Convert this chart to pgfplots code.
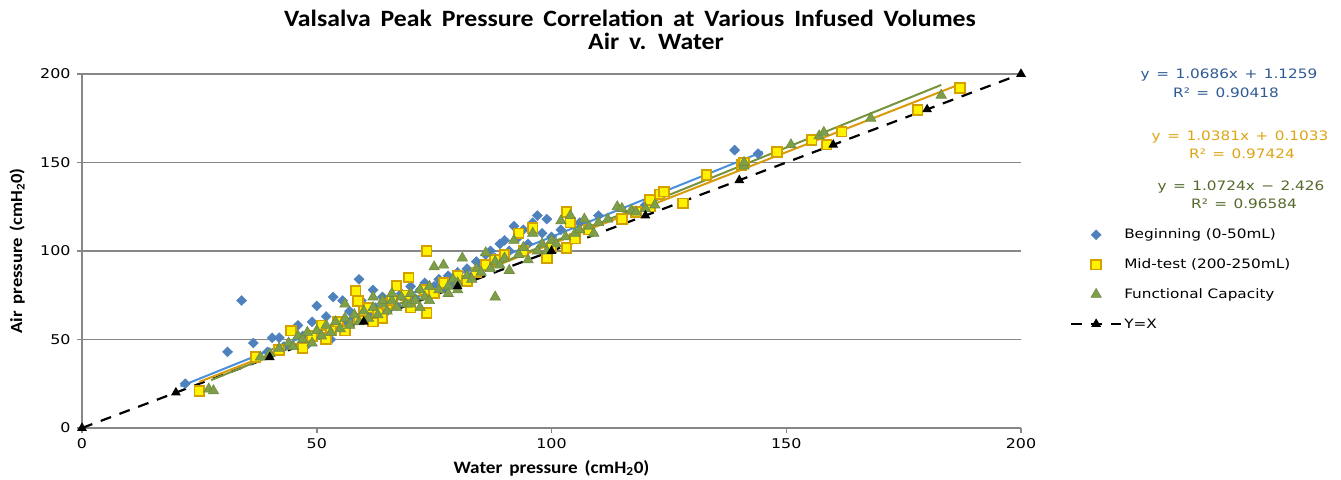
\documentclass[border=0pt]{standalone}
\usepackage{pgfplots}
\pgfplotsset{compat=1.18}
\usepackage{fontspec}
\setmainfont{DejaVu Sans}[FakeStretch=1.18]
\newfontfamily\calb{Carlito}[FakeStretch=1.1]
\definecolor{begc}{HTML}{4F81BD}
\definecolor{begline}{HTML}{4A8FDB}
\definecolor{begtxt}{HTML}{2F5A94}
\definecolor{midfill}{HTML}{FFF200}
\definecolor{middraw}{HTML}{D4A000}
\definecolor{midline}{HTML}{D99A0B}
\definecolor{midtxt}{HTML}{DDA515}
\definecolor{funfill}{HTML}{7E9E4A}
\definecolor{fundraw}{HTML}{6F8C3F}
\definecolor{funline}{HTML}{77933C}
\definecolor{funtxt}{HTML}{55692C}
\definecolor{axgray}{HTML}{878787}
\begin{document}
\begin{tikzpicture}[x=1bp,y=1bp]
\useasboundingbox (0,0) rectangle (1341,480);
\begin{axis}[
  at={(82bp,52bp)}, anchor=south west,
  scale only axis, width=939bp, height=354bp,
  xmin=0, xmax=200, ymin=0, ymax=200,
  axis x line*=bottom, axis y line*=left,
  axis line style={draw=axgray, line width=2bp},
  xtick={0,50,...,200}, ytick={0,50,...,200},
  ymajorgrids, grid style={draw=axgray, line width=1.8bp},
  tick style={draw=axgray, line width=1.5bp},
  tick align=outside, major tick length=5bp,
  /pgf/number format/assume math mode=true,
  tick label style={font=\fontsize{13.5}{15}\selectfont, text=black},
  xticklabel style={yshift=-2bp},
  yticklabel style={xshift=-3bp},
  every axis x label/.style={at={(axis description cs:0.5,-0.113)}, anchor=center},
  every axis y label/.style={at={(axis description cs:-0.069,0.5)}, rotate=90, anchor=center},
  xlabel={\calb\bfseries\fontsize{17.5}{19}\selectfont\spaceskip=0.4em Water pressure (cmH\textsubscript{2}0)},
  ylabel={\calb\bfseries\fontsize{17}{19}\selectfont\spaceskip=0.4em Air pressure (cmH\textsubscript{2}0)},
  clip=false,
  legend image code/.code={\draw[mark repeat=2,mark phase=2,#1] plot coordinates {(0bp,0bp) (25bp,0bp) (50bp,0bp)};},
  legend cell align=left,
  legend style={draw=none, fill=none, at={(axis description cs:1.052,0.568)}, anchor=north west,
    font=\fontsize{13}{14}\selectfont, row sep=14.5bp, inner sep=0pt},
]
\addplot[only marks, mark=diamond*, mark size=5bp, mark options={fill=begc, draw=begc, xscale=1.35}] coordinates {
(22,25) (31,43) (34,72) (36.5,48) (39.5,43) (40.5,51) (42,51) (43,46) (44.5,55) (46,58) (47,52) (48,47) (49,60) (50,69) (50.5,56) (52,63) (53,50) (53.5,74) (54.5,58) (55.5,72) (56,61) (57,66) (58,62) (59,84) (59.5,72) (61,64) (62,78) (62.5,68) (64,74) (65,66) (66,72) (67,69) (68,76) (69,74) (70,80) (71,73) (72,78) (73,82) (74,76) (75,80) (76,84) (77,79) (78,86) (79,82) (80,88) (82,90) (83,86) (84,94) (85,92) (86,98) (87,100) (88,96) (89,104) (90,106) (91,100) (92,114) (93,108) (94,112) (95,104) (96,116) (97,120) (98,110) (99,118) (100,108) (102,112) (104,118) (106,116) (110,120) (118,122) (120,126) (139,157) (141,150) (144,155)
};
\addlegendentry{Beginning (0-50mL)}
\addplot[only marks, mark=square*, mark size=4.8bp, mark options={fill=midfill, draw=middraw, line width=1.8bp}] coordinates {
(25,21) (37,40) (42,44) (44.5,55) (47,45) (49,52) (51,58) (52,50) (53,55) (54.5,60) (56,55) (58.3,77.6) (58.8,71.7) (59,62) (60,66) (61,68) (62,60) (63,65) (64,62) (65,70) (67,80.4) (66,72) (69.6,85) (69,75) (70,68) (73.4,65) (73.4,100) (73,78) (75,76) (77,82) (80,86) (82,83) (84,88) (86,92) (88,95) (90,98) (93,110) (94,100) (96,113) (99,96) (100,102) (103.2,101.7) (103.2,122) (104,116) (105,107) (108,112) (115,118) (118,122) (121,125) (121,128.8) (123,132) (124,133.5) (128,127) (133,143) (140.5,148.6) (141,150) (148,156) (155.4,162.7) (158.6,160) (161.8,167.4) (178,179.7) (187,192)
};
\addlegendentry{Mid-test (200-250mL)}
\addplot[only marks, mark=triangle*, mark size=6bp, mark options={fill=funfill, draw=fundraw, line width=0.6bp}] coordinates {
(27,22) (28,21) (38,40) (40,42) (42,45) (44,48) (45,46) (46,52) (47,50) (48,54) (49,48) (50,55) (51,52) (52,58) (53,54) (54,60) (55,56) (56,62) (56,70) (57,58) (58,64) (59,60) (60,66) (61,62) (62,68) (62,74) (63,64) (64,70) (64,72) (65,66) (66,72) (66,76) (67,68) (68,74) (69,70) (70,76) (70,70) (71,72) (72,78) (72,68) (73,74) (74,80) (74,72) (75,91) (76,78) (77,92) (78,80) (78,76) (79,84) (80,82) (80,78) (81,96) (82,86) (83,84) (84,90) (85,88) (86,99) (87,90) (88,74) (88,94) (89,92) (90,96) (91,89) (92,106) (93,98) (94,102) (95,95) (96,110) (97,100) (98,104) (99,100) (100,106) (101,104) (102,117) (103,108) (104,120) (105,110) (106,112) (107,118) (108,114) (109,110) (110,116) (112,118) (114,125) (115,124) (117,123) (118,122) (120,124) (122,126) (141,148) (141,150) (151,160) (157,165) (158,167) (168,175) (183,188)
};
\addlegendentry{Functional Capacity}
\addplot[black, line width=2.2bp, dash pattern=on 11bp off 9bp, mark=triangle*, mark size=3.5bp, mark options={solid, fill=black}] coordinates {
(0,0) (20,20) (40,40) (60,60) (80,80) (100,100) (120,120) (140,140) (160,160) (180,180) (200,200)
};
\addlegendentry{Y=X}
% trendlines (endpoints from the printed fits)
\addplot[forget plot, begline, line width=2bp] coordinates {(21,23.57) (145,156.07)};
\addplot[forget plot, midline, line width=2bp] coordinates {(25,26.06) (187,194.23)};
\addplot[forget plot, funline, line width=2bp] coordinates {(27.5,27.07) (183,193.82)};
\end{axis}
\begin{scope}[font=\fontsize{13}{14}\selectfont]
\node[text=begtxt] at (1229,405) {\spaceskip=0.5em y = 1.0686x + 1.1259};
\node[text=begtxt] at (1226,387) {\spaceskip=0.5em R² = 0.90418};
\node[text=midtxt] at (1240,343) {\spaceskip=0.5em y = 1.0381x + 0.1033};
\node[text=midtxt] at (1242,326) {\spaceskip=0.5em R² = 0.97424};
\node[text=funtxt] at (1241,293) {\spaceskip=0.5em y = 1.0724x − 2.426};
\node[text=funtxt] at (1244,276) {\spaceskip=0.5em R² = 0.96584};
\end{scope}
\node[font=\calb\bfseries\fontsize{23.5}{25}\selectfont] at (630,462) {\spaceskip=0.42em Valsalva Peak Pressure Correlation at Various Infused Volumes};
\node[font=\calb\bfseries\fontsize{23.5}{25}\selectfont] at (656,439) {\spaceskip=0.42em Air v. Water};
\end{tikzpicture}
\end{document}
